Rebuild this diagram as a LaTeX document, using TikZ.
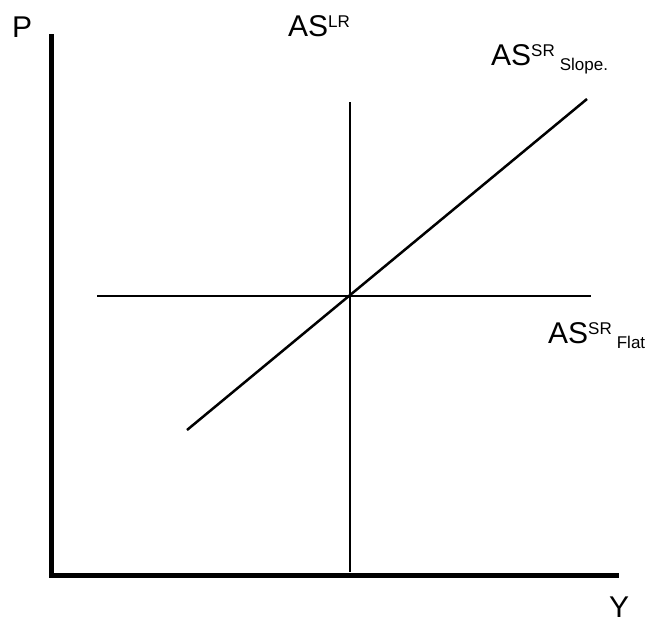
\documentclass[tikz,border=0pt]{standalone}
\usepackage{fontspec}
\setsansfont{Liberation Sans}
\usetikzlibrary{positioning,calc}
% curve label: AS with a superscript and a subscript
\newcommand{\aslab}[2]{AS\raisebox{9pt}{\fontsize{17}{17}\selectfont #1}\,\raisebox{-5pt}{\fontsize{17}{17}\selectfont #2}}

\begin{document}
\begin{tikzpicture}[x=1pt,y=-1pt,font=\sffamily\fontsize{30}{30}\selectfont,
    axis/.style={line width=5pt},
    curve/.style={line width=2.5pt}]
  \useasboundingbox (0,0) rectangle (654,622);
  % Axes
  \coordinate (ptop) at (51,34);
  \coordinate (origin) at (51,575);
  \coordinate (yend) at (619,575);
  \draw[axis] (ptop) -- (origin) -- (yend);
  \node[anchor=base west,inner sep=0pt] (plab) at (12,37) {P};
  \node[anchor=base west,inner sep=0pt] (ylab) at (609,617) {Y};
  % Curves
  \coordinate (lrtop) at (350,102);
  \coordinate (lrbot) at (350,572);
  \coordinate (flatl) at (97,296);
  \coordinate (flatr) at (591,296);
  \coordinate (slopel) at (187,430);
  \coordinate (sloper) at (587,99);
  \draw[curve] (lrtop) -- (lrbot);
  \draw[curve] (flatl) -- (flatr);
  \draw[curve] (slopel) -- (sloper);
  % Labels
  \node[anchor=base west,inner sep=0pt] (lrlab) at (288,36) {\aslab{LR}{}};
  \node[anchor=base west,inner sep=0pt] (slopelab) at (491,65) {\aslab{SR}{Slope.}};
  \node[anchor=base west,inner sep=0pt] (flatlab) at (548,343) {\aslab{SR}{Flat}};
\end{tikzpicture}
\end{document}
